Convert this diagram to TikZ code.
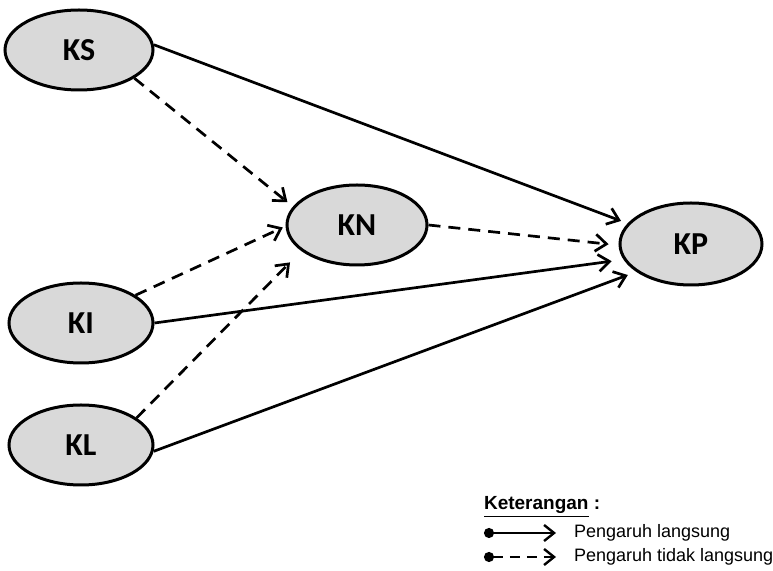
\documentclass[tikz,border=0pt]{standalone}
\usepackage{fontspec}
\setmainfont{Liberation Sans}
\newfontfamily\varfont{Carlito}
\usetikzlibrary{arrows.meta,shapes.geometric}

\tikzset{
	var/.style={ellipse,draw,line width=1.5pt,fill=black!15,minimum width=72pt,minimum height=40pt,
		font=\varfont\bfseries\fontsize{16}{18}\selectfont},
	pathdirect/.style={line width=1.35pt,arrows={-Straight Barb[length=5.5pt,width=8.5pt]}},
	pathindirect/.style={pathdirect,dash pattern=on 6pt off 4pt},
	legtext/.style={anchor=west,font=\fontsize{9}{11}\selectfont},
}

\begin{document}
\begin{tikzpicture}[x=0.5pt,y=-0.5pt]
	\useasboundingbox (0,0) rectangle (773,571);
	\node[var,minimum width=74pt] (KS) at (79,50) {KS};
	\node[var,minimum width=70pt] (KN) at (357,225) {KN};
	\node[var,minimum width=71pt,minimum height=41pt] (KP) at (691,244) {KP};
	\node[var] (KI) at (81,323) {KI};
	\node[var] (KL) at (81,445) {KL};
	\draw[pathdirect,shorten >=3.5pt] (KS.4) -- (KP.162);
	\draw[pathindirect,shorten >=3.5pt] (KS.-27) -- (KN.164);
	\draw[pathindirect,shorten >=5pt] (KN.0) -- (KP.181);
	\draw[pathindirect,shorten >=1.5pt] (KI.27) -- (KN.181);
	\draw[pathdirect,shorten >=6pt] (KI.0) -- (KP.193);
	\draw[pathindirect,shorten >=8pt] (KL.26) -- (KN.205);
	\draw[pathdirect,shorten >=4.5pt] (KL.-5) -- (KP.207);
	\node[legtext,font=\fontsize{9.5}{11}\selectfont\bfseries] (legtitle) at (477,507) {\underline{Keterangan}~:};
	\node[legtext] (legdirect) at (567,533) {Pengaruh langsung};
	\node[legtext] (legindirect) at (567,557) {Pengaruh tidak langsung};
	\coordinate (legdirectdot) at (484,533);
	\coordinate (legindirectdot) at (484,557);
	\draw[pathdirect,line width=1.2pt,arrows={Circle[length=5pt]-Straight Barb[length=5pt,width=8pt]},shorten >=5.5pt] (legdirectdot) -- (legdirect.west);
	\draw[pathindirect,line width=1.2pt,dash pattern=on 5pt off 3.5pt,arrows={Circle[length=5pt]-Straight Barb[length=5pt,width=8pt]},shorten >=5.5pt] (legindirectdot) -- (legindirect.west);
\end{tikzpicture}
\end{document}
